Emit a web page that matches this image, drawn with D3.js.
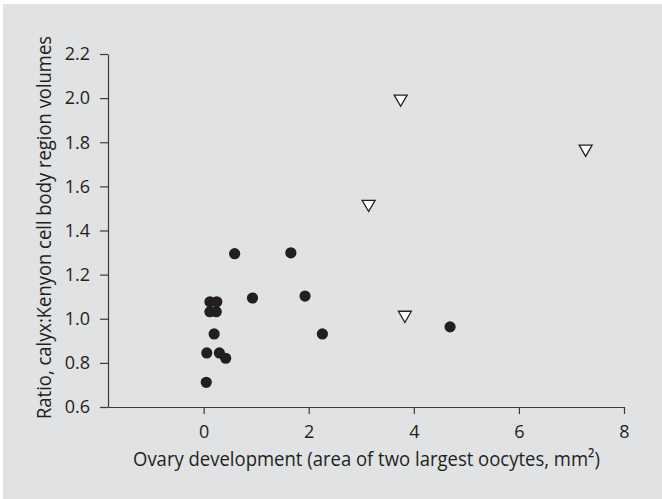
<!DOCTYPE html>
<html>
<head>
<meta charset="utf-8">
<script src="https://cdn.jsdelivr.net/npm/d3@7"></script>
<style>
  body { margin: 0; background: #fff; }
  svg { display: block; font-family: "Open Sans", sans-serif; }
</style>
</head>
<body>
<svg width="662" height="499"></svg>
<script>
// filled circles
const ovaryCircles = [0.59, 1.66, 0.93, 1.93, 0.12, 0.25, 0.12, 0.24, 0.20, 2.26, 4.69, 0.06, 0.30, 0.42, 0.05];
const ratioCircles = [1.295, 1.299, 1.094, 1.103, 1.077, 1.077, 1.032, 1.032, 0.931, 0.931, 0.963, 0.845, 0.845, 0.821, 0.712];
// open triangles
const ovaryTriangles = [3.75, 7.27, 3.14, 3.83];
const ratioTriangles = [1.997, 1.77, 1.52, 1.017];

const xTicks = [0, 2, 4, 6, 8];
const yTicks = [0.6, 0.8, 1.0, 1.2, 1.4, 1.6, 1.8, 2.0, 2.2];

const ink = "#231f20";
const svg = d3.select("svg");

// grey panel
svg.append("rect")
  .attr("x", 3).attr("y", 4)
  .attr("width", 659).attr("height", 495)
  .attr("fill", "#e1e2e4");

const x = d3.scaleLinear().domain([-1.82, 8]).range([108, 624]);
const y = d3.scaleLinear().domain([0.6, 2.2]).range([407, 54]);

const xAxis = svg.append("g")
  .attr("transform", "translate(0,407)")
  .call(d3.axisBottom(x).tickValues(xTicks).tickSize(7).tickSizeOuter(0).tickPadding(11));

const yAxis = svg.append("g")
  .attr("transform", "translate(108,0)")
  .call(d3.axisLeft(y).tickValues(yTicks).tickFormat(d3.format(".1f")).tickSize(8).tickSizeOuter(0).tickPadding(10));

[xAxis, yAxis].forEach(function(a) {
  a.selectAll("path, line").attr("stroke", "#3a3a3a").attr("stroke-width", 1.2);
  a.selectAll("text").attr("fill", ink).attr("font-size", 18).attr("font-family", "Open Sans, sans-serif");
});

// circles
svg.append("g").selectAll("circle")
  .data(ovaryCircles)
  .join("circle")
  .attr("cx", function(d) { return x(d); })
  .attr("cy", function(d, i) { return y(ratioCircles[i]); })
  .attr("r", 5.6)
  .attr("fill", ink);

// triangles pointing down
const tri = d3.symbol(d3.symbolTriangle, 73);
svg.append("g").selectAll("path")
  .data(ovaryTriangles)
  .join("path")
  .attr("d", tri)
  .attr("transform", function(d, i) { return "translate(" + x(d) + "," + y(ratioTriangles[i]) + ") rotate(180)"; })
  .attr("fill", "#fff")
  .attr("stroke", ink)
  .attr("stroke-width", 1.3);

// axis titles
svg.append("text")
  .attr("x", 133).attr("y", 466)
  .attr("fill", ink)
  .attr("font-size", 20)
  .attr("textLength", 467)
  .attr("lengthAdjust", "spacingAndGlyphs")
  .text("Ovary development (area of two largest oocytes, mm\u00b2)");

svg.append("text")
  .attr("transform", "translate(51,227.5) rotate(-90)")
  .attr("text-anchor", "middle")
  .attr("fill", ink)
  .attr("font-size", 20)
  .attr("textLength", 383)
  .attr("lengthAdjust", "spacingAndGlyphs")
  .text("Ratio, calyx:Kenyon cell body region volumes");
</script>
</body>
</html>
